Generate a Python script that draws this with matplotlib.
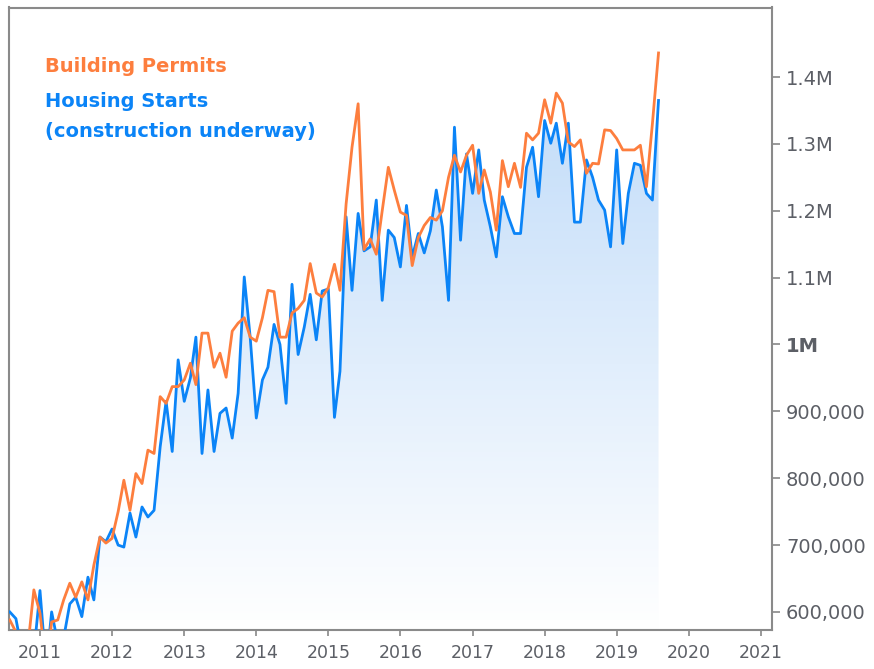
import numpy as np
import pandas as pd
import matplotlib
matplotlib.use("Agg")
import matplotlib.pyplot as plt
import matplotlib.dates as mdates
from matplotlib.colors import LinearSegmentedColormap


# ---------------------------------------------------
# Data (monthly, Aug 2010 .. Aug 2019, thousands SAAR)
# ---------------------------------------------------

FIRST_MONTH = "2010-08-01"

housing_starts = [
    600, 590, 543, 545, 539,                                          # 2010
    632, 517, 600, 554, 561, 612, 622, 593, 652, 618, 712, 705,       # 2011
    724, 700, 697, 748, 712, 757, 742, 752, 847, 915, 840, 977,       # 2012
    915, 950, 1011, 837, 932, 840, 897, 905, 860, 927, 1101, 1011,    # 2013
    890, 947, 966, 1030, 1000, 912, 1090, 985, 1026, 1075, 1007, 1080,  # 2014
    1083, 891, 960, 1191, 1081, 1196, 1140, 1146, 1216, 1066, 1171, 1160,  # 2015
    1116, 1208, 1131, 1166, 1137, 1170, 1231, 1176, 1066, 1325, 1156, 1285,  # 2016
    1226, 1291, 1216, 1176, 1131, 1221, 1191, 1166, 1166, 1265, 1295, 1221,  # 2017
    1335, 1301, 1331, 1271, 1331, 1183, 1183, 1276, 1250, 1216, 1201, 1146,  # 2018
    1291, 1151, 1226, 1271, 1268, 1226, 1216, 1365,                   # 2019
]

building_permits = [
    588, 570, 555, 550, 633,                                          # 2010
    598, 517, 585, 588, 618, 643, 622, 645, 618, 670, 712, 703,       # 2011
    710, 750, 797, 752, 807, 792, 842, 837, 922, 912, 937, 937,       # 2012
    947, 972, 940, 1017, 1017, 966, 987, 951, 1020, 1032, 1040, 1011,  # 2013
    1005, 1040, 1081, 1079, 1011, 1011, 1047, 1054, 1066, 1121, 1077, 1071,  # 2014
    1085, 1120, 1081, 1210, 1295, 1360, 1142, 1158, 1135, 1200, 1265, 1231,  # 2015
    1198, 1193, 1118, 1160, 1178, 1190, 1186, 1200, 1250, 1283, 1258, 1283,  # 2016
    1298, 1226, 1261, 1228, 1171, 1275, 1236, 1271, 1235, 1316, 1306, 1316,  # 2017
    1366, 1331, 1376, 1361, 1303, 1296, 1306, 1256, 1271, 1270, 1321, 1320,  # 2018
    1308, 1291, 1291, 1291, 1298, 1236, 1330, 1436,                   # 2019
]

y_ticks = [600000, 700000, 800000, 900000, 1000000,
           1100000, 1200000, 1300000, 1400000]
y_tick_labels = ["600,000", "700,000", "800,000", "900,000", "1M",
                 "1.1M", "1.2M", "1.3M", "1.4M"]

months = pd.date_range(FIRST_MONTH, periods=len(housing_starts), freq="MS")
starts = np.array(housing_starts) * 1000
permits = np.array(building_permits) * 1000

ORANGE = "#fd7e3e"
BLUE = "#0b84f7"
Y_LOW, Y_HIGH = 573000, 1504000


# ---------------------------------------------------
# Plot
# ---------------------------------------------------

fig = plt.figure(figsize=(8.74, 6.69), dpi=100)
ax = fig.add_axes([9 / 874, 39 / 669, 763 / 874, 622.5 / 669])

# gradient fill under housing starts
poly = ax.fill_between(months, starts, Y_LOW, color="none", linewidth=0)
clip = poly.get_paths()[0]
grad = np.linspace(0, 1, 256).reshape(-1, 1)
cmap = LinearSegmentedColormap.from_list("fade", ["#ffffff", "#c3ddf9"])
x0 = mdates.date2num(months[0])
x1 = mdates.date2num(months[-1])
im = ax.imshow(grad, aspect="auto", cmap=cmap, origin="lower",
               extent=[x0, x1, Y_LOW, 1370000], zorder=1)
im.set_clip_path(clip, transform=ax.transData)

ax.plot(months, starts, color=BLUE, linewidth=2.0, zorder=3)
ax.plot(months, permits, color=ORANGE, linewidth=2.0, zorder=4)

ax.set_xlim(pd.Timestamp("2010-07-28"), pd.Timestamp("2021-02-26"))
ax.set_ylim(Y_LOW, Y_HIGH)

ax.xaxis.set_major_locator(mdates.YearLocator())
ax.xaxis.set_major_formatter(mdates.DateFormatter("%Y"))

ax.yaxis.tick_right()
ax.set_yticks(y_ticks, y_tick_labels)
for lbl in ax.get_yticklabels():
    if lbl.get_text() == "1M":
        lbl.set_fontweight("bold")
        lbl.set_color("#4a4a4a")

ax.tick_params(axis="y", length=6, width=1.2, color="#888888", pad=4,
               labelsize=14, labelcolor="#5c5f66")
ax.tick_params(axis="x", length=4, width=1.2, color="#888888", pad=6,
               labelsize=12.5, labelcolor="#5c5f66")

for side in ["left", "right", "top", "bottom"]:
    ax.spines[side].set_color("#8a8a8a")
    ax.spines[side].set_linewidth(1.5)

# series labels
fig.text(45 / 874, 1 - 72 / 669, "Building Permits", color=ORANGE,
         fontsize=14, fontweight="bold", va="baseline")
fig.text(45 / 874, 1 - 107 / 669, "Housing Starts", color=BLUE,
         fontsize=14, fontweight="bold", va="baseline")
fig.text(45 / 874, 1 - 137 / 669, "(construction underway)", color=BLUE,
         fontsize=14, fontweight="bold", va="baseline")

fig.savefig("out.png", dpi=100)
